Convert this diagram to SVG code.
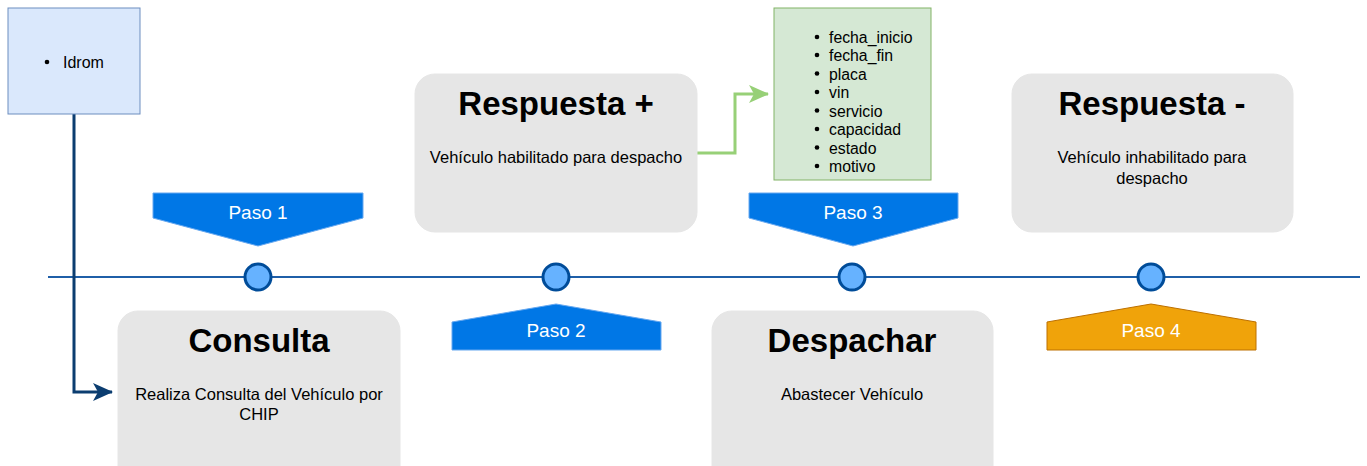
<svg xmlns="http://www.w3.org/2000/svg" width="1367" height="466" viewBox="0 0 1367 466">
<defs>
<style>
text{font-family:"Liberation Sans",Arial,Helvetica,sans-serif;fill:#000}
.title{font-size:33px;font-weight:bold;text-anchor:middle}
.body{font-size:16.5px;text-anchor:middle}
.paso{font-size:19px;fill:#fff;text-anchor:middle}
.card{fill:#e6e6e6;stroke:#e6e6e6}
.blue{fill:#0077e6;stroke:#66a8f0;stroke-width:1}
.dot{fill:#66b2ff;stroke:#004c99;stroke-width:3}
.li{font-size:15.8px}
</style>
<marker id="arrBlue" viewBox="0 0 20 18" refX="19" refY="9" markerWidth="20" markerHeight="18" markerUnits="userSpaceOnUse" orient="auto">
<path d="M0,0 L20,9 L0,18 L5,9 Z" fill="#0b3d70"/>
</marker>
<marker id="arrGreen" viewBox="0 0 20 18" refX="19" refY="9" markerWidth="20" markerHeight="18" markerUnits="userSpaceOnUse" orient="auto">
<path d="M0,0 L20,9 L0,18 L5,9 Z" fill="#97d077"/>
</marker>
</defs>
<rect width="1367" height="466" fill="#fff"/>

<g id="timeline">
<line x1="48" y1="277" x2="1360" y2="277" stroke="#1f5fa8" stroke-width="2"/>
</g>

<g id="connectors">
<path d="M74,114 L74,392 L112,392" fill="none" stroke="#0b3d70" stroke-width="3" marker-end="url(#arrBlue)"/>
<path d="M697,153 L735,153 L735,94 L768,94" fill="none" stroke="#97d077" stroke-width="3" marker-end="url(#arrGreen)"/>
</g>

<g id="idrom">
<rect x="8" y="8" width="132" height="106" fill="#dae8fc" stroke="#6c8ebf" stroke-width="1"/>
<circle cx="47" cy="62" r="2.3" fill="#000"/>
<text x="63" y="68" style="font-size:16px">Idrom</text>
</g>

<g id="campos">
<rect x="774" y="8" width="157" height="172" fill="#d5e8d4" stroke="#82b366" stroke-width="1"/>
<g fill="#000">
<circle cx="817" cy="37" r="2.3"/><circle cx="817" cy="55" r="2.3"/><circle cx="817" cy="73.5" r="2.3"/><circle cx="817" cy="92" r="2.3"/>
<circle cx="817" cy="110.5" r="2.3"/><circle cx="817" cy="129" r="2.3"/><circle cx="817" cy="147.5" r="2.3"/><circle cx="817" cy="166" r="2.3"/>
</g>
<text class="li" x="829" y="43">fecha_inicio</text>
<text class="li" x="829" y="61">fecha_fin</text>
<text class="li" x="829" y="79.5">placa</text>
<text class="li" x="829" y="98">vin</text>
<text class="li" x="829" y="116.5">servicio</text>
<text class="li" x="829" y="135">capacidad</text>
<text class="li" x="829" y="153.5">estado</text>
<text class="li" x="829" y="172">motivo</text>
</g>

<g id="respuesta-pos">
<rect class="card" x="415" y="74" width="282" height="158" rx="20"/>
<text class="title" x="556" y="115">Respuesta +</text>
<text class="body" x="556" y="163">Vehículo habilitado para despacho</text>
</g>

<g id="respuesta-neg">
<rect class="card" x="1012" y="74" width="281" height="158" rx="20"/>
<text class="title" x="1152" y="115">Respuesta -</text>
<text class="body" x="1152" y="163">Vehículo inhabilitado para</text>
<text class="body" x="1152" y="184">despacho</text>
</g>

<g id="consulta">
<rect class="card" x="118" y="311" width="282" height="175" rx="20"/>
<text class="title" x="259" y="352">Consulta</text>
<text class="body" x="259" y="400">Realiza Consulta del Vehículo por</text>
<text class="body" x="259" y="420">CHIP</text>
</g>

<g id="despachar">
<rect class="card" x="712" y="311" width="281" height="175" rx="20"/>
<text class="title" x="852" y="352">Despachar</text>
<text class="body" x="852" y="400">Abastecer Vehículo</text>
</g>

<g id="paso1">
<polygon class="blue" points="153,193 363,193 363,218 258,246 153,218"/>
<text class="paso" x="258" y="219">Paso 1</text>
</g>
<g id="paso2">
<polygon class="blue" points="556,304 661,322 661,350 452,350 452,322"/>
<text class="paso" x="556" y="337">Paso 2</text>
</g>
<g id="paso3">
<polygon class="blue" points="749,193 958,193 958,218 853,246 749,218"/>
<text class="paso" x="853" y="219">Paso 3</text>
</g>
<g id="paso4">
<polygon points="1151,304 1256,322 1256,350 1047,350 1047,322" fill="#f0a30a" stroke="#bd7000" stroke-width="1"/>
<text class="paso" x="1151" y="337">Paso 4</text>
</g>

<g id="hitos">
<circle class="dot" cx="258" cy="277" r="13"/>
<circle class="dot" cx="556" cy="277" r="13"/>
<circle class="dot" cx="852" cy="277" r="13"/>
<circle class="dot" cx="1151" cy="277" r="13"/>
</g>
</svg>
